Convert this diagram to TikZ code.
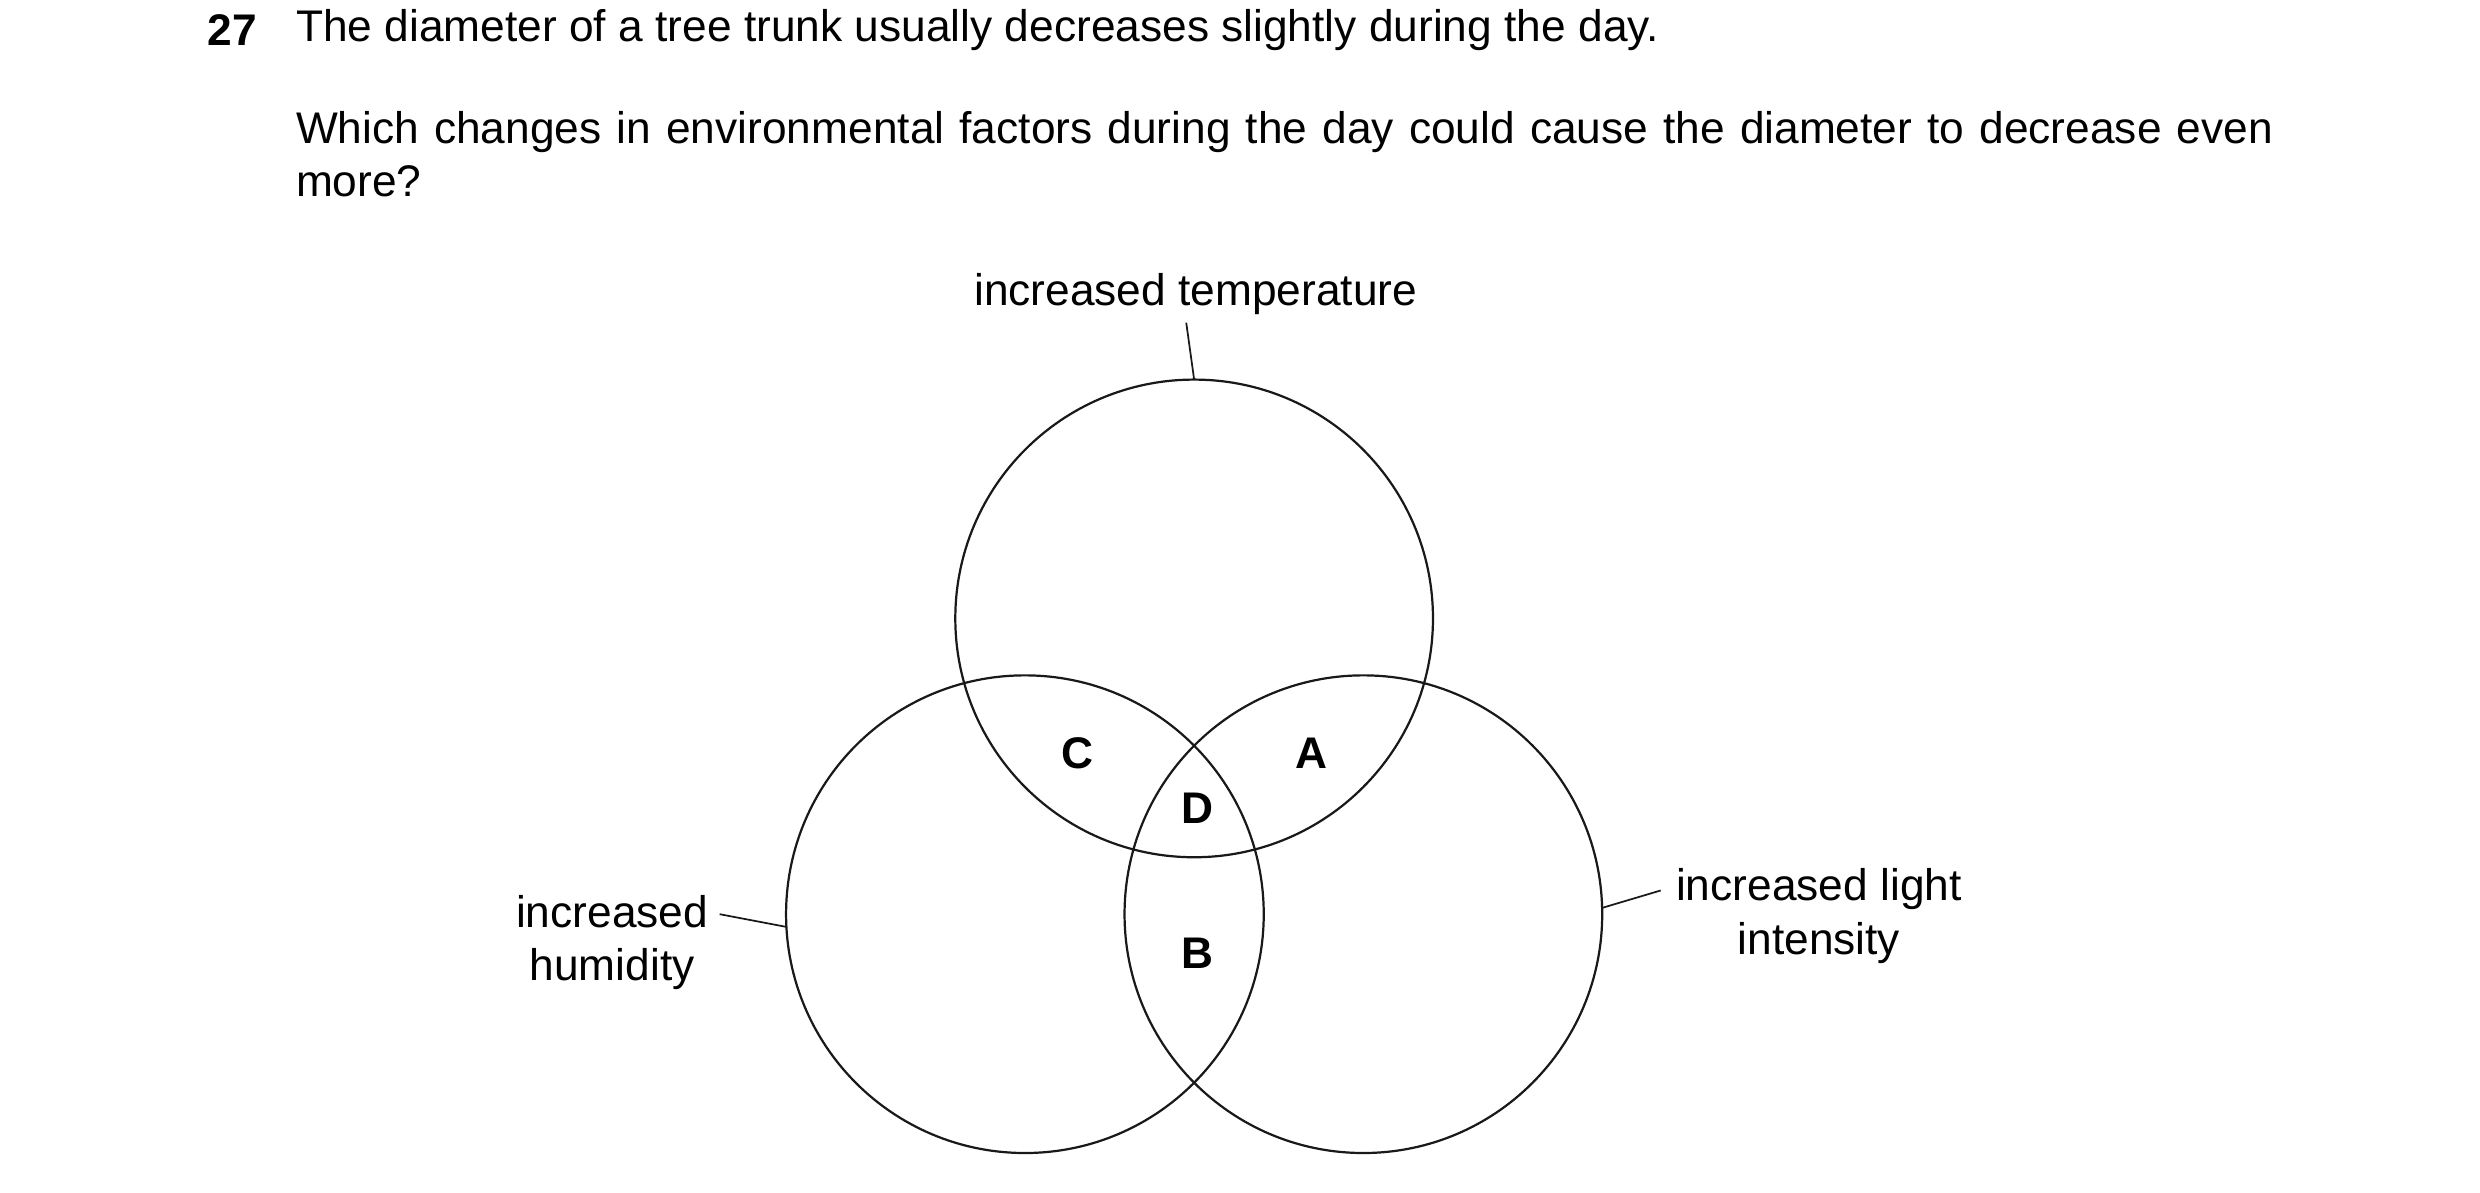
\documentclass[tikz,border=0pt]{standalone}
\usepackage{fontspec}
\setmainfont{Liberation Sans}
\begin{document}
\begin{tikzpicture}[x=1pt,y=-1pt,
  txt/.style={font=\fontsize{28}{34}\selectfont, inner sep=0pt},
  lbl/.style={font=\fontsize{28}{34}\selectfont\bfseries, inner sep=0pt},
  circ/.style={draw=black!90, line width=1.4pt},
  lead/.style={draw=black!90, line width=1.1pt}]
\useasboundingbox (0,0) rectangle (1568,754);
\node[lbl, anchor=west] (num) at (131,19) {27};
\node[txt, anchor=west] (q1) at (187,19) {The diameter of a tree trunk usually decreases slightly during the day.};
\node[txt, anchor=north west, text width=1250pt, align=justify] (q2) at (187,70) {Which changes in environmental factors during the day could cause the diameter to decrease even more?};
\node[circ, circle, minimum size=302pt, inner sep=0pt] (top) at (755,391) {};
\node[circ, circle, minimum size=302pt, inner sep=0pt] (left) at (648,578) {};
\node[circ, circle, minimum size=302pt, inner sep=0pt] (right) at (862,578) {};
\node[lbl] (C) at (681,476) {C};
\node[lbl] (A) at (829,476) {A};
\node[lbl] (D) at (757,511) {D};
\node[lbl] (B) at (757,603) {B};
\node[txt] (lt) at (756,186) {increased temperature};
\node[txt, align=center] (lh) at (387,596) {increased\\humidity};
\node[txt, align=center] (ll) at (1150,579) {increased light\\intensity};
\coordinate (t1) at (750,204); \coordinate (t2) at (755,240);
\coordinate (h1) at (455,578); \coordinate (h2) at (497,586);
\coordinate (l1) at (1050,563); \coordinate (l2) at (1013,574);
\draw[lead] (t1) -- (t2);
\draw[lead] (h1) -- (h2);
\draw[lead] (l1) -- (l2);
\end{tikzpicture}
\end{document}
